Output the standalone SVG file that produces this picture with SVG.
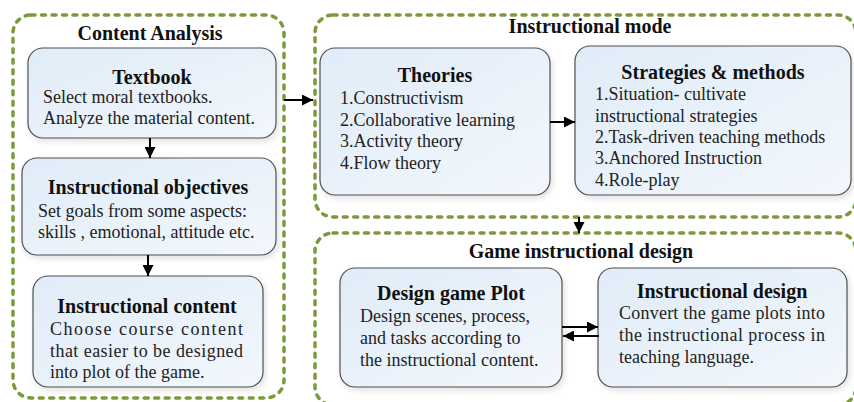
<svg xmlns="http://www.w3.org/2000/svg" width="854" height="402" viewBox="0 0 854 402">
  <defs>
    <linearGradient id="boxFill" x1="0" y1="0" x2="1" y2="1">
      <stop offset="0" stop-color="#e0ecf8"/>
      <stop offset="1" stop-color="#f2f7fc"/>
    </linearGradient>
    <filter id="soft" x="-10%" y="-10%" width="125%" height="125%">
      <feGaussianBlur in="SourceAlpha" stdDeviation="3"/>
      <feOffset dx="2" dy="3" result="b"/>
      <feComponentTransfer><feFuncA type="linear" slope="0.12"/></feComponentTransfer>
      <feMerge><feMergeNode/><feMergeNode in="SourceGraphic"/></feMerge>
    </filter>
    <marker id="head" viewBox="0 0 10 10" refX="10" refY="5" markerWidth="11" markerHeight="11" markerUnits="userSpaceOnUse" orient="auto">
      <path d="M0,0 L10,5 L0,10 z" fill="#000"/>
    </marker>
  </defs>
  <style>
    .group { fill: none; stroke: #7b9a3c; stroke-width: 3.5; stroke-dasharray: 4 6.5; stroke-linecap: round; }
    .box { fill: url(#boxFill); stroke: #505050; stroke-width: 1.2; filter: url(#soft); }
    .gtitle { font-family: "Liberation Serif", "Times New Roman", serif; font-weight: bold; font-size: 20px; fill: #111; text-anchor: middle; }
    .title { font-family: "Liberation Serif", "Times New Roman", serif; font-weight: bold; font-size: 20px; fill: #111; text-anchor: middle; }
    .body { font-family: "Liberation Serif", "Times New Roman", serif; font-size: 18px; fill: #222; }
    .conn { stroke: #000; stroke-width: 2; fill: none; marker-end: url(#head); }
  </style>

  <rect width="854" height="402" fill="#ffffff"/>

  <!-- dashed section frames -->
  <g id="content-analysis">
    <rect class="group" x="13" y="15" width="271" height="383" rx="18"/>
    <text class="gtitle" x="150" y="40">Content Analysis</text>
  </g>
  <g id="instructional-mode">
    <rect class="group" x="315" y="15" width="541" height="202" rx="18"/>
    <text class="gtitle" x="590" y="33">Instructional mode</text>
  </g>
  <g id="game-instructional-design">
    <rect class="group" x="315" y="233" width="541" height="172" rx="18"/>
    <text class="gtitle" x="581" y="258">Game instructional design</text>
  </g>

  <!-- nodes -->
  <g id="textbook">
    <rect class="box" x="28" y="48" width="248" height="90" rx="15"/>
    <text class="title" x="152" y="84">Textbook</text>
    <text class="body" x="43" y="103">Select moral textbooks.</text>
    <text class="body" x="43" y="124">Analyze the material content.</text>
  </g>
  <g id="objectives">
    <rect class="box" x="22" y="158" width="254" height="97" rx="15"/>
    <text class="title" x="148" y="194">Instructional objectives</text>
    <text class="body" x="38" y="217">Set goals from some aspects:</text>
    <text class="body" x="38" y="238">skills , emotional, attitude etc.</text>
  </g>
  <g id="content">
    <rect class="box" x="33" y="276" width="230" height="111" rx="15"/>
    <text class="title" x="147" y="313">Instructional content</text>
    <text class="body" x="50" y="335" textLength="193" lengthAdjust="spacing">Choose course content</text>
    <text class="body" x="50" y="357" textLength="193" lengthAdjust="spacing">that easier to be designed</text>
    <text class="body" x="50" y="378">into plot of the game.</text>
  </g>
  <g id="theories">
    <rect class="box" x="320" y="48" width="230" height="147" rx="15"/>
    <text class="title" x="435" y="82">Theories</text>
    <text class="body" x="340" y="104">1.Constructivism</text>
    <text class="body" x="340" y="126">2.Collaborative learning</text>
    <text class="body" x="340" y="147">3.Activity theory</text>
    <text class="body" x="340" y="169">4.Flow theory</text>
  </g>
  <g id="strategies">
    <rect class="box" x="575" y="46" width="276" height="149" rx="15"/>
    <text class="title" x="713" y="79">Strategies &amp; methods</text>
    <text class="body" x="595" y="100">1.Situation- cultivate</text>
    <text class="body" x="595" y="122">instructional strategies</text>
    <text class="body" x="595" y="143">2.Task-driven teaching methods</text>
    <text class="body" x="595" y="164">3.Anchored Instruction</text>
    <text class="body" x="595" y="186">4.Role-play</text>
  </g>
  <g id="game-plot">
    <rect class="box" x="340" y="268" width="222" height="119" rx="15"/>
    <text class="title" x="451" y="300">Design game Plot</text>
    <text class="body" x="360" y="322">Design scenes, process,</text>
    <text class="body" x="360" y="344">and tasks according to</text>
    <text class="body" x="360" y="366">the instructional content.</text>
  </g>
  <g id="instr-design">
    <rect class="box" x="598" y="268" width="249" height="119" rx="15"/>
    <text class="title" x="722" y="298">Instructional design</text>
    <text class="body" x="619" y="319" textLength="206" lengthAdjust="spacing">Convert the game plots into</text>
    <text class="body" x="619" y="341" textLength="206" lengthAdjust="spacing">the instructional process in</text>
    <text class="body" x="619" y="363">teaching language.</text>
  </g>

  <!-- connectors -->
  <g id="connectors">
    <line class="conn" x1="150" y1="138" x2="150" y2="158"/>
    <line class="conn" x1="148" y1="255" x2="148" y2="276"/>
    <line class="conn" x1="284" y1="100" x2="313" y2="100"/>
    <line class="conn" x1="550" y1="122" x2="575" y2="122"/>
    <line class="conn" x1="579" y1="217" x2="579" y2="233"/>
    <line class="conn" x1="562" y1="327" x2="598" y2="327"/>
    <line class="conn" x1="599" y1="336" x2="563" y2="336"/>
  </g>
</svg>
